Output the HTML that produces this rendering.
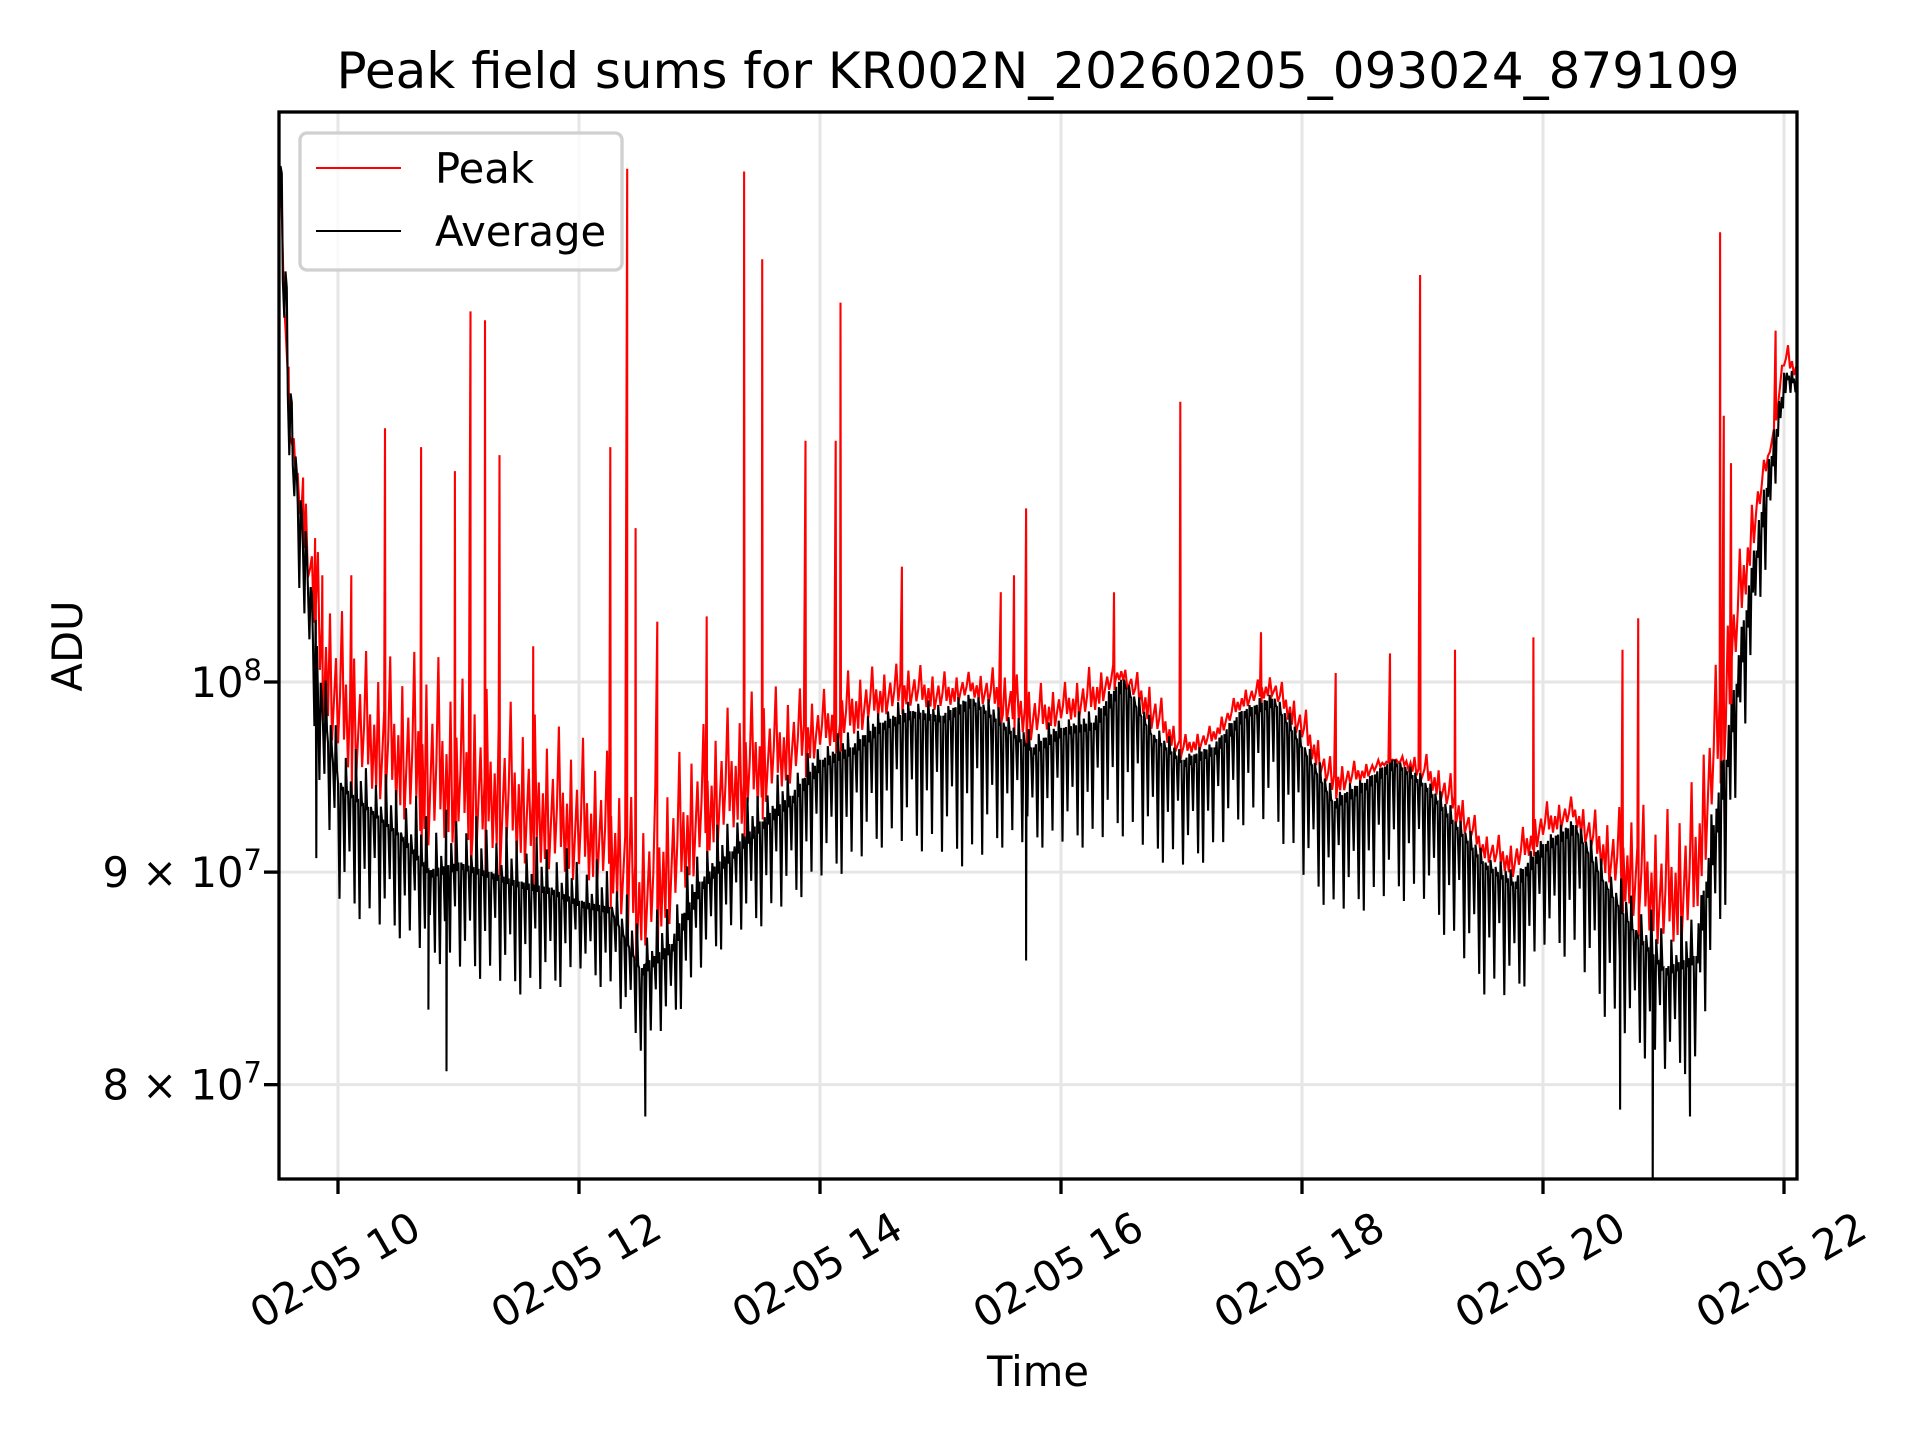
<!DOCTYPE html>
<html><head><meta charset="utf-8"><style>
html,body{margin:0;padding:0;background:#fff}
svg{display:block;font-family:"DejaVu Sans","Liberation Sans",sans-serif}
</style></head><body>
<svg id="chart" width="1920" height="1440" viewBox="0 0 1920 1440" xmlns="http://www.w3.org/2000/svg">
<rect width="1920" height="1440" fill="#fff"/>
<defs><clipPath id="clip"><rect x="279" y="112" width="1518" height="1067"/></clipPath></defs>
<g id="grid"></g>
<g id="plot" clip-path="url(#clip)"></g>
<rect x="279" y="112" width="1518" height="1067" fill="none" stroke="#000" stroke-width="3.3"/>
<g id="ticks"></g>
<text x="1038" y="88" font-size="50" text-anchor="middle">Peak field sums for KR002N_20260205_093024_879109</text>
<text x="1038" y="1386" font-size="41.7" text-anchor="middle">Time</text>
<text x="0" y="0" font-size="41.7" text-anchor="middle" transform="translate(82,646) rotate(-90)">ADU</text>
<g>
<rect x="300" y="133" width="322" height="137" rx="7" fill="#fff" fill-opacity="0.8" stroke="#d0d0d0" stroke-width="3.3"/>
<g><line x1="316" y1="168" x2="401" y2="168" stroke="#f00" stroke-width="2.1"/><text x="435" y="183" font-size="41.7">Peak</text></g>
<g><line x1="316" y1="231" x2="401" y2="231" stroke="#000" stroke-width="2.1"/><text x="435" y="246" font-size="41.7">Average</text></g>
</g>
</svg>
<script>
// ---- data (values in ADU) ----
const times = [9.5,9.6,9.75,9.85,10,10.25,10.5,10.75,11,11.25,11.5,11.75,12,12.25,12.5,12.75,13,13.25,13.5,13.75,14,14.25,14.5,14.75,15,15.25,15.5,15.75,16,16.25,16.5,16.75,17,17.25,17.5,17.75,18,18.25,18.5,18.75,19,19.25,19.5,19.75,20,20.25,20.5,20.75,21,21.25,21.5,21.75,21.9,22,22.1];
const avgTop = [1.331e8,1.143e8,1.054e8,0.984e8,0.9456e8,0.9331e8,0.920e8,0.901e8,0.9048e8,0.9001e8,0.8953e8,0.8923e8,0.8858e8,0.8828e8,0.8534e8,0.8648e8,0.8953e8,0.9104e8,0.9256e8,0.9389e8,0.9578e8,0.9644e8,0.9777e8,0.984e8,0.9815e8,0.9908e8,0.9777e8,0.9644e8,0.9749e8,0.9777e8,1.0013e8,0.9711e8,0.9578e8,0.9644e8,0.984e8,0.9908e8,0.9644e8,0.9361e8,0.9456e8,0.9578e8,0.9456e8,0.9256e8,0.9048e8,0.8953e8,0.9141e8,0.9237e8,0.8953e8,0.8715e8,0.8534e8,0.8591e8,0.9578e8,1.0756e8,1.143e8,1.1869e8,1.1823e8];
const avgLow = [1.2845e8,1.0982e8,0.9947e8,0.9379e8,0.8838e8,0.8734e8,0.8676e8,0.8572e8,0.8515e8,0.8467e8,0.841e8,0.841e8,0.8515e8,0.841e8,0.8152e8,0.8258e8,0.8515e8,0.8676e8,0.8734e8,0.8838e8,0.8953e8,0.901e8,0.9123e8,0.9123e8,0.9066e8,0.901e8,0.9123e8,0.9123e8,0.9123e8,0.9123e8,0.918e8,0.9066e8,0.901e8,0.9066e8,0.9237e8,0.9237e8,0.8953e8,0.8781e8,0.881e8,0.8867e8,0.8838e8,0.862e8,0.841e8,0.8362e8,0.862e8,0.8572e8,0.8306e8,0.8152e8,0.8047e8,0.8047e8,0.8838e8,1.023e8,1.0982e8,1.173e8,1.1637e8];
const peakTop = [1.364e8,1.15e8,1.083e8,1.03e8,0.999e8,0.978e8,0.971e8,0.965e8,0.958e8,0.952e8,0.945e8,0.939e8,0.932e8,0.926e8,0.895e8,0.914e8,0.939e8,0.952e8,0.965e8,0.971e8,0.978e8,0.988e8,0.995e8,0.999e8,0.995e8,0.999e8,0.995e8,0.984e8,0.988e8,0.995e8,1.006e8,0.988e8,0.965e8,0.971e8,0.991e8,0.999e8,0.978e8,0.948e8,0.952e8,0.958e8,0.955e8,0.939e8,0.914e8,0.907e8,0.926e8,0.932e8,0.914e8,0.907e8,0.895e8,0.907e8,0.999e8,1.098e8,1.143e8,1.199e8,1.191e8];
const spikeTimes = [9.59,9.71,9.81,9.87,10.11,10.39,10.69,10.97,11.10,11.22,11.34,11.62,12.26,12.40,12.47,12.65,13.06,13.37,13.52,13.88,14.13,14.17,14.68,15.50,15.61,15.71,16.44,16.99,17.66,18.28,18.73,18.98,19.27,19.92,20.66,20.79,21.47,21.50,21.56,21.93];
const spikeValues = [1.191e8,1.120e8,1.083e8,1.061e8,1.061e8,1.151e8,1.139e8,1.124e8,1.228e8,1.222e8,1.134e8,1.020e8,1.139e8,1.329e8,1.089e8,1.034e8,1.037e8,1.327e8,1.264e8,1.143e8,1.143e8,1.234e8,1.066e8,1.051e8,1.061e8,1.101e8,1.051e8,1.168e8,1.028e8,1.005e8,1.016e8,1.253e8,1.018e8,1.025e8,1.018e8,1.036e8,1.283e8,1.159e8,1.129e8,1.215e8];
const dipTimes = [9.82,10.75,10.90,12.55,15.71,20.64,20.91,21.22];
const dipValues = [0.907e8,0.834e8,0.806e8,0.786e8,0.857e8,0.789e8,0.75e8,0.786e8];
const yTicks = [8e7,9e7,1e8];
const yTickMant = ["8","9",""];
const yTickExp = ["7","7","8"];
const xTicks = [10,12,14,16,18,20,22];
const xTickLabels = ["02-05 10","02-05 12","02-05 14","02-05 16","02-05 18","02-05 20","02-05 22"];

// ---- axes ----
const NS="http://www.w3.org/2000/svg";
function X(h){return 338+(h-10)*120.5;}
function Y(v){return 682-4155*Math.log10(v/1e8);}
function interp(arr,t){
  if(t<=times[0])return arr[0];
  for(let i=1;i<times.length;i++){if(t<=times[i]){const f=(t-times[i-1])/(times[i]-times[i-1]);return Math.exp(Math.log(arr[i-1])*(1-f)+Math.log(arr[i])*f);}}
  return arr[arr.length-1];
}
function mk(tag,attrs,parent){const e=document.createElementNS(NS,tag);for(const k in attrs)e.setAttribute(k,attrs[k]);parent.appendChild(e);return e;}
const grid=document.getElementById('grid'),plot=document.getElementById('plot'),ticks=document.getElementById('ticks');
xTicks.forEach((h,i)=>{
  const g=mk('line',{x1:X(h),x2:X(h),y1:112,y2:1179,stroke:'#e6e6e6','stroke-width':3},grid);
  
  
  const t=mk('line',{x1:X(h),x2:X(h),y1:1179,y2:1194,stroke:'#000','stroke-width':3.3},ticks);
  
  
  const l=mk('text',{x:0,y:0,'font-size':41.7,'text-anchor':'middle','dominant-baseline':'central',transform:`translate(${X(h)-3},1270) rotate(-30)`},ticks);
  l.textContent=xTickLabels[i];
  
  
});
yTicks.forEach((v,i)=>{
  const y=Y(v);
  const g=mk('line',{x1:279,x2:1797,y1:y,y2:y,stroke:'#e6e6e6','stroke-width':3},grid);
  
  
  const t=mk('line',{x1:264,x2:279,y1:y,y2:y,stroke:'#000','stroke-width':3.3},ticks);
  
  
  const l=mk('text',{x:262,y:y+15,'font-size':41.7,'text-anchor':'end'},ticks);
  
  
  l.innerHTML=(yTickMant[i]?yTickMant[i]+' × ':'')+'10<tspan font-size="29" dy="-17">'+yTickExp[i]+'</tspan>';
});

// ---- series ----
const t0=times[0],t1=times[times.length-1];
// red (peak)
let red=[];const rs=1/60;const rpat=[1,0.3,1.5,0.2,0.7,1.2,0.4,0.9,1.8,0.5,1.1,0.25];
let k=0;
for(let t=t0;t<=t1;t+=rs,k++){
  const top=interp(peakTop,t),base=interp(avgTop,t);
  const f=rpat[k%rpat.length];
  const v=Math.exp(Math.log(base)+(Math.log(top)-Math.log(base))*f);
  red.push([X(t),Y(v)]);
}
spikeTimes.forEach((t,i)=>{red.push([X(t),Y(spikeValues[i])]);red.push([X(t)+0.5,Y(interp(avgTop,t))]);});
red.sort((a,b)=>a[0]-b[0]);
const rp=mk('path',{d:'M'+red.map(p=>p[0].toFixed(1)+','+p[1].toFixed(1)).join('L'),fill:'none',stroke:'#f00','stroke-width':2.1,'stroke-linejoin':'miter'},plot);


// black (average)
let blk=[];const bs=1/24;const bpat=[1,0.55,0.85,0.4,0.95,0.7,0.5,0.9];
const upat=[0,0.3,0.1,0.5,0.2,0.4];
k=0;
for(let t=t0;t<=t1;t+=bs,k++){
  const top=interp(avgTop,t),low=interp(avgLow,t),pk=interp(peakTop,t);
  const f=bpat[k%bpat.length];
  const v=Math.exp(Math.log(top)+(Math.log(low)-Math.log(top))*f);
  const u=Math.exp(Math.log(top)+(Math.log(pk)-Math.log(top))*upat[k%upat.length]);
  blk.push([X(t),Y(top)]);
  blk.push([X(t+bs*0.3),Y(v)]);
  blk.push([X(t+bs*0.55),Y(u)]);
  blk.push([X(t+bs*0.8),Y(top*0.996)]);
}
dipTimes.forEach((t,i)=>{blk.push([X(t),Y(dipValues[i])]);blk.push([X(t)+0.5,Y(interp(avgTop,t))]);});
blk.sort((a,b)=>a[0]-b[0]);
const bp=mk('path',{d:'M'+blk.map(p=>p[0].toFixed(1)+','+p[1].toFixed(1)).join('L'),fill:'none',stroke:'#000','stroke-width':2.1},plot);


</script>
</body></html>
